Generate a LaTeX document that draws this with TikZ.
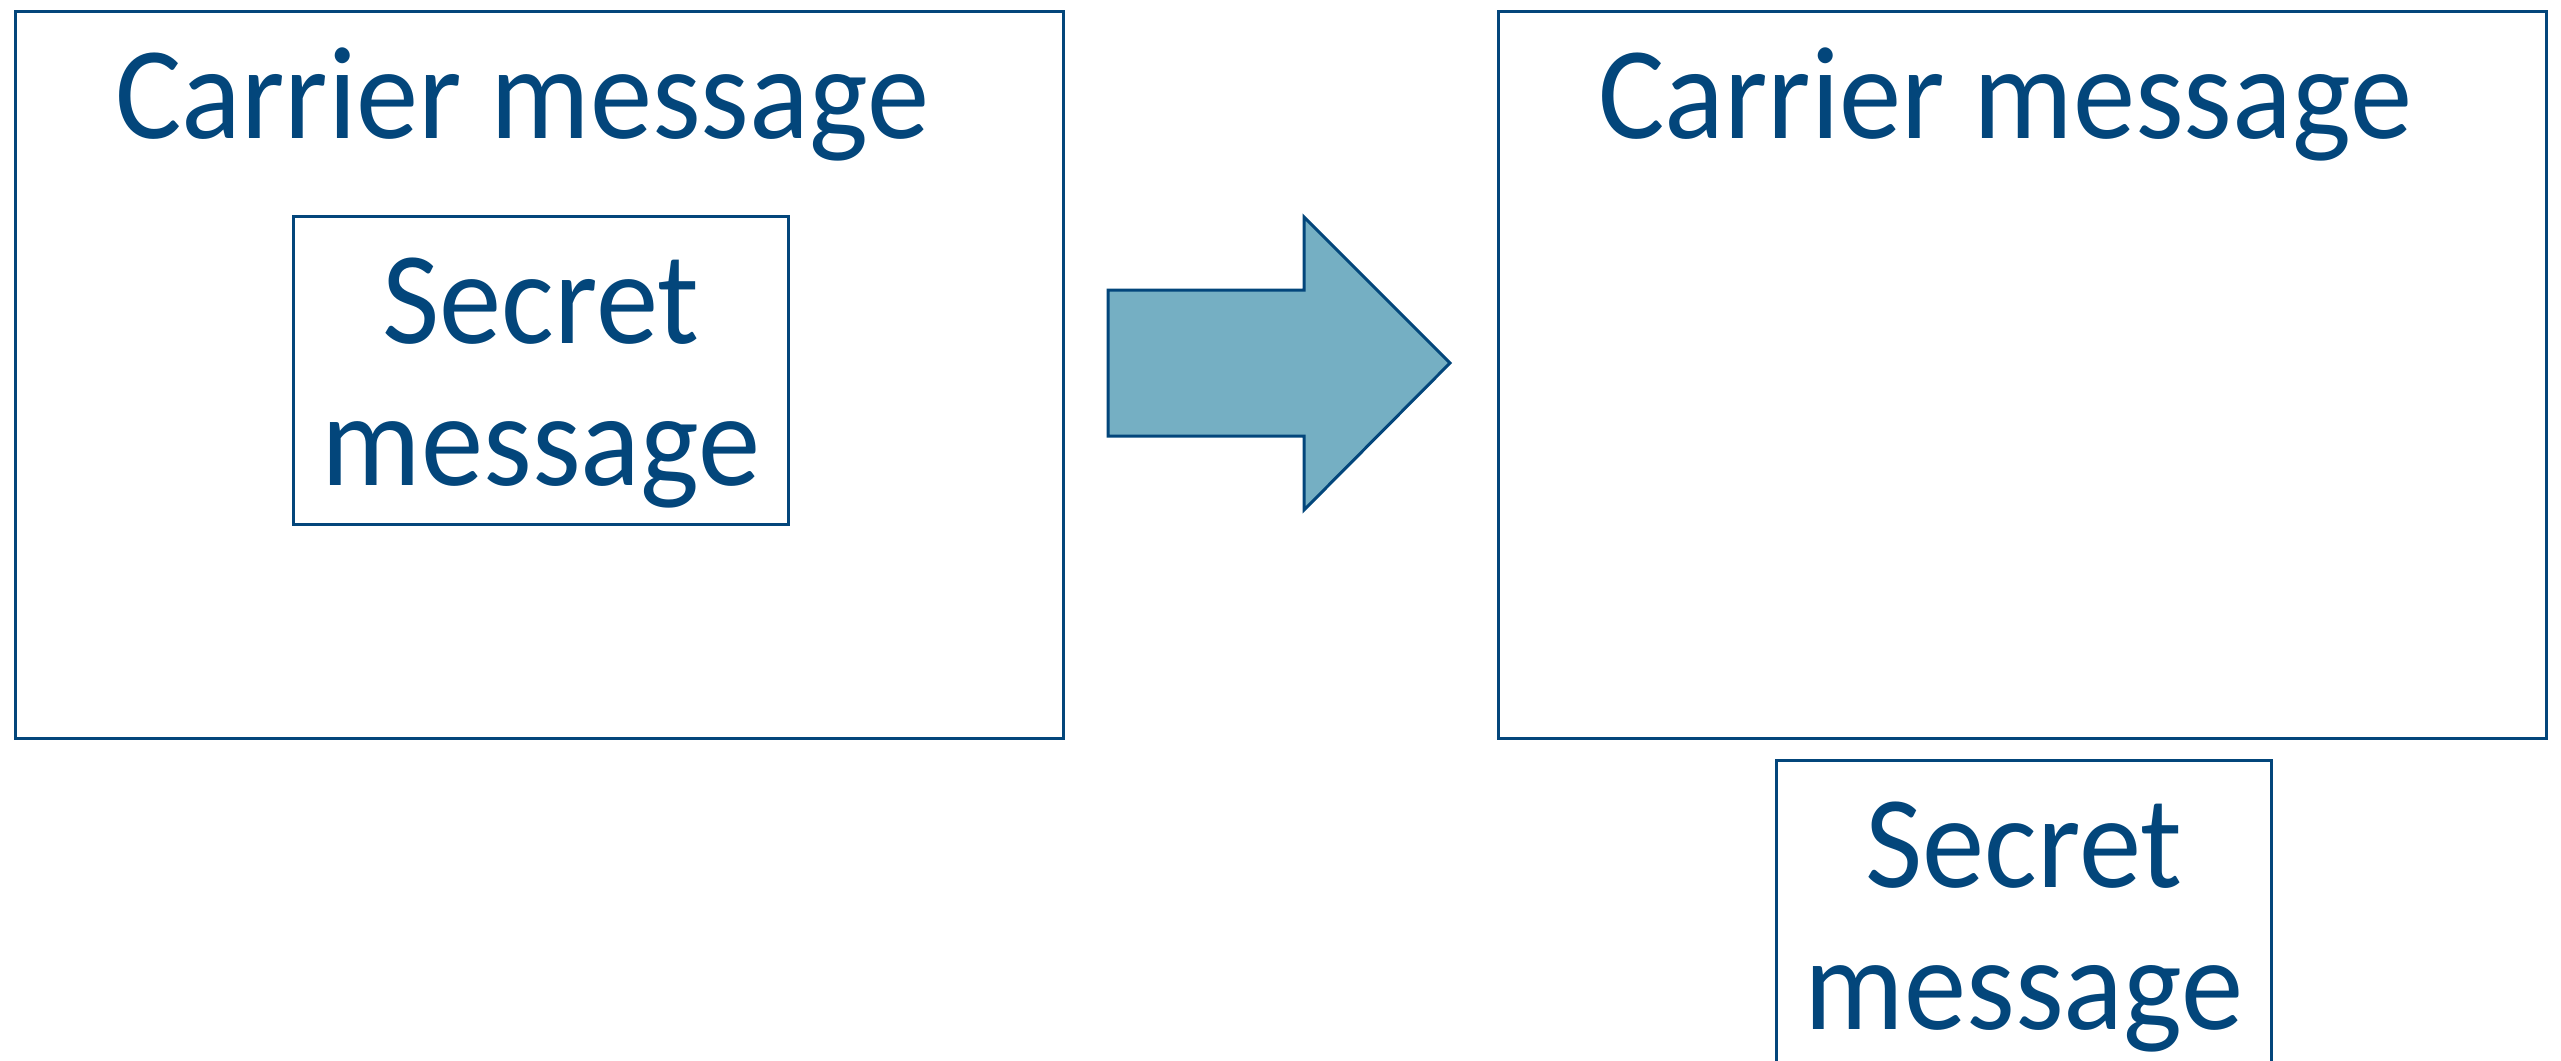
\documentclass[tikz,border=0pt]{standalone}
\usepackage{fontspec}
\setmainfont{Carlito}[FakeStretch=0.945]
\definecolor{inkblue}{HTML}{03467B}
\definecolor{arrowfill}{HTML}{75AFC3}
\tikzset{
  framebox/.style={draw=inkblue, line width=0.85pt, inner sep=0pt},
  label text/.style={text=inkblue, anchor=base, inner sep=0pt,
    font=\fontsize{37.5}{45}\selectfont},
  bigarrow/.style={draw=inkblue, fill=arrowfill, line width=0.85pt, line join=miter}
}
\begin{document}
\begin{tikzpicture}[x=0.01cm, y=-0.01cm]
  \useasboundingbox (0,0) rectangle (2561,1060);
  \clip (0,0) rectangle (2561,1060);

  % carrier before embedding
  \node[framebox, minimum width=10.47cm, minimum height=7.26cm] (carrierL) at (539.5,375) {};
  \node[label text] (carrierLtitle) at (522,138) {Carrier message};
  \node[framebox, minimum width=4.94cm, minimum height=3.07cm] (secretIn) at (541,370.5) {};
  \node[label text] (secretInA) at (541,343) {Secret};
  \node[label text] (secretInB) at (541,485) {message};

  % block arrow
  \path[bigarrow] (1108,290) -- (1304,290) -- (1304,217) -- (1450,363)
    -- (1304,510) -- (1304,436) -- (1108,436) -- cycle;

  % carrier after embedding
  \node[framebox, minimum width=10.47cm, minimum height=7.26cm] (carrierR) at (2022.5,375) {};
  \node[label text] (carrierRtitle) at (2005,138) {Carrier message};

  % extracted secret
  \node[framebox, minimum width=4.94cm, minimum height=3.07cm] (secretOut) at (2024,914.5) {};
  \node[label text] (secretOutA) at (2024,887) {Secret};
  \node[label text] (secretOutB) at (2024,1029) {message};
\end{tikzpicture}
\end{document}
